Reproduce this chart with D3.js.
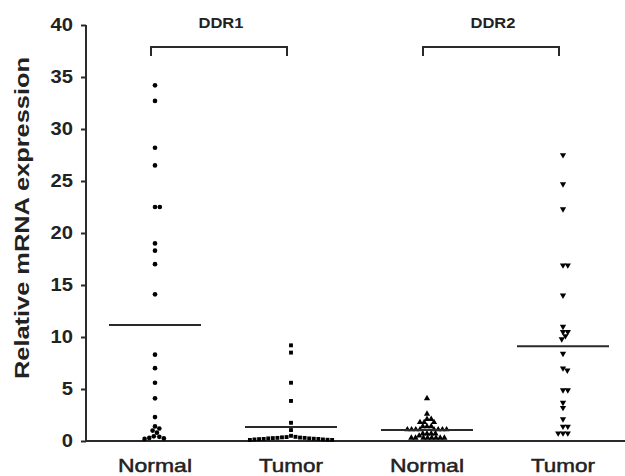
<!DOCTYPE html>
<html>
<head>
<meta charset="utf-8">
<script src="https://cdn.jsdelivr.net/npm/d3@7"></script>
<style>
  body { margin: 0; background: #fff; }
  text { font-family: "Liberation Sans", Arial, sans-serif; fill: #222; }
</style>
</head>
<body>
<div id="chart"></div>
<script>
// values
var groupLabels = ["Normal", "Tumor", "Normal", "Tumor"];
var genes = ["DDR1", "DDR2"];
var ddr1Normal = [34.2, 32.7, 28.2, 26.5, 22.5, 22.5, 19.0, 18.3, 17.0, 14.1, 8.3, 7.0, 5.6, 4.1, 2.3,
                  1.4, 1.2, 1.0, 0.8, 0.45, 0.4, 0.3, 0.25, 0.2];
var ddr1Tumor = [9.2, 8.5, 5.6, 3.85, 1.75, 1.05, 0.5,
                 0.4, 0.38, 0.35, 0.33, 0.3, 0.3, 0.28, 0.25, 0.25, 0.22, 0.2, 0.2, 0.18, 0.15, 0.15, 0.12, 0.1, 0.1];
var ddr2Normal = [4.1, 2.6, 2.1, 2.1, 1.8, 1.8, 1.8, 1.4, 1.4, 1.4,
                  1.1, 1.1, 1.1, 1.1, 1.1, 1.1, 1.1, 1.1, 0.7, 0.7, 0.7, 0.7, 0.5,
                  0.3, 0.3, 0.3, 0.3, 0.3, 0.3, 0.3, 0.3];
var ddr2Tumor = [27.5, 24.7, 22.3, 16.9, 16.9, 14.0, 11.0, 10.5, 10.5, 10.1, 9.8, 8.4, 7.0, 6.8,
                 4.9, 4.9, 3.7, 3.2, 2.1, 1.4, 1.4, 0.75, 0.75, 0.75];
var groupMeans = [11.15, 1.35, 1.06, 9.1];
var yTicks = [0, 5, 10, 15, 20, 25, 30, 35, 40];

var groups = [ddr1Normal, ddr1Tumor, ddr2Normal, ddr2Tumor];
var shapes = [d3.symbolCircle, d3.symbolSquare, d3.symbolTriangle, d3.symbolTriangle];
var shapeSize = [17, 15, 17, 17];
var shapeRot = [0, 0, 0, 180];

var W = 625, H = 476;
var ink = "#2a2a2a";

var svg = d3.select("#chart").append("svg").attr("width", W).attr("height", H);

var x = d3.scalePoint().domain([0, 1, 2, 3]).range([155, 563]);
var y = d3.scaleLinear().domain([0, 40]).range([441, 25]);

// stretch a text to a given length (picture is a bit wider than tall)
function fit(sel, w) {
  sel.attr("textLength", w).attr("lengthAdjust", "spacingAndGlyphs");
}

// y axis
var yAxis = svg.append("g").attr("transform", "translate(86,0)")
  .call(d3.axisLeft(y).tickValues(yTicks).tickSize(5).tickPadding(8));
yAxis.select(".domain").attr("stroke", ink).attr("stroke-width", 2).attr("d", "M0," + y(40) + "V" + y(0));
yAxis.selectAll(".tick line").attr("stroke", ink).attr("stroke-width", 2);
yAxis.selectAll(".tick text")
  .attr("font-size", 18).attr("font-weight", "bold").attr("fill", "#222")
  .each(function() {
    var w = this.getComputedTextLength();
    d3.select(this).attr("textLength", w * 1.12).attr("lengthAdjust", "spacingAndGlyphs");
  });

// x axis line, runs to the right edge
svg.append("line")
  .attr("x1", 85).attr("x2", W).attr("y1", y(0)).attr("y2", y(0))
  .attr("stroke", ink).attr("stroke-width", 2);

// y title
svg.append("text")
  .attr("transform", "translate(29,218) rotate(-90)")
  .attr("text-anchor", "middle").attr("font-size", 20).attr("font-weight", "bold")
  .text("Relative mRNA expression")
  .call(fit, 322);

// group labels under axis
svg.selectAll(".glab").data(groupLabels).enter().append("text")
  .attr("class", "glab")
  .attr("x", function(d, i) { return x(i); })
  .attr("y", 472)
  .attr("text-anchor", "middle").attr("font-size", 19)
  .attr("stroke", "#222").attr("stroke-width", 0.5)
  .text(function(d) { return d; })
  .each(function(d) { fit(d3.select(this), d == "Normal" ? 74 : 64); });

// gene brackets
genes.forEach(function(g, k) {
  var x0 = x(k * 2) - 4, x1 = x(k * 2 + 1) - 4;
  svg.append("path")
    .attr("d", "M" + x0 + ",56V47H" + x1 + "V56")
    .attr("fill", "none").attr("stroke", ink).attr("stroke-width", 2);
  svg.append("text")
    .attr("x", (x0 + x1) / 2 + 2).attr("y", 28)
    .attr("text-anchor", "middle").attr("font-size", 14).attr("font-weight", "bold")
    .text(g)
    .call(fit, 45);
});

// simple beeswarm: push points sideways so they do not overlap
function swarm(vals, cx, d) {
  var placed = [];
  var sorted = vals.slice().sort(function(a, b) { return b - a; });
  sorted.forEach(function(v) {
    var py = y(v);
    var near = placed.filter(function(p) { return Math.abs(p.y - py) < d; });
    var cands = [0];
    near.forEach(function(p) {
      var dx = Math.sqrt(d * d - (p.y - py) * (p.y - py));
      cands.push(p.dx + dx, p.dx - dx);
    });
    cands.sort(function(a, b) { return Math.abs(a) - Math.abs(b); });
    var best = 0;
    for (var i = 0; i < cands.length; i++) {
      var c = cands[i];
      var ok = near.every(function(p) {
        var ddx = p.dx - c, ddy = p.y - py;
        return ddx * ddx + ddy * ddy >= d * d - 0.01;
      });
      if (ok) { best = c; break; }
    }
    placed.push({ v: v, y: py, dx: best });
  });
  return placed.map(function(p) { return { x: cx + p.dx, y: p.y }; });
}

var gap = [4.8, 4.6, 4.2, 4.8];
groups.forEach(function(vals, i) {
  var pts = swarm(vals, x(i), gap[i]);
  svg.append("g").selectAll("path").data(pts).enter().append("path")
    .attr("d", d3.symbol().type(shapes[i]).size(shapeSize[i]))
    .attr("transform", function(p) {
      return "translate(" + p.x + "," + p.y + ") rotate(" + shapeRot[i] + ")";
    })
    .attr("fill", "#000");
});

// mean lines
svg.selectAll(".mean").data(groupMeans).enter().append("line")
  .attr("class", "mean")
  .attr("x1", function(d, i) { return x(i) - 46; })
  .attr("x2", function(d, i) { return x(i) + 46; })
  .attr("y1", function(d) { return y(d); })
  .attr("y2", function(d) { return y(d); })
  .attr("stroke", ink).attr("stroke-width", 2);
</script>
</body>
</html>
